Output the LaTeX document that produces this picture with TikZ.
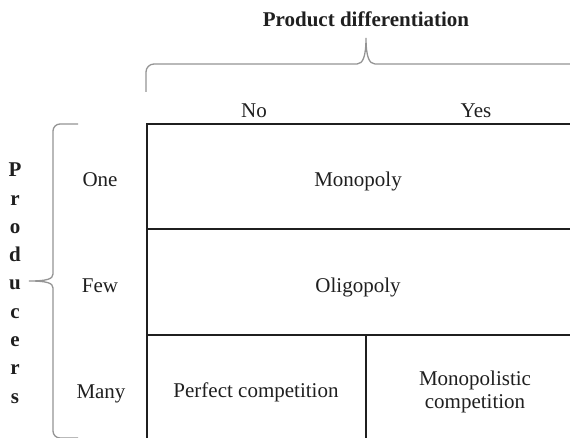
\documentclass[tikz,border=0pt]{standalone}
\usepackage{fontspec}
\setmainfont{Liberation Serif}
\begin{document}
\begin{tikzpicture}[x=1pt,y=-1pt,
  font=\fontsize{21}{24}\selectfont,
  gridline/.style={line width=1.8pt, draw=black!88},
  bracepath/.style={draw=black!42, line width=1.3pt},
  lbl/.style={anchor=base, inner sep=0pt, text=black!88}]
\useasboundingbox (0,0) rectangle (570,438);
\clip (0,0) rectangle (570,438);
% table grid
\draw[gridline] (147,440) -- (147,124) -- (572,124);
\draw[gridline] (147,229) -- (572,229);
\draw[gridline] (147,335) -- (572,335);
\draw[gridline] (366,335) -- (366,440);
% top brace
\draw[bracepath] (146,92) -- (146,72) to[out=90,in=180] (154,64) -- (357,64)
  .. controls (363,64) and (366,56) .. (366,38)
  .. controls (366,56) and (369,64) .. (375,64) -- (575,64);
% left brace
\draw[bracepath] (78,124) -- (60,124) to[out=180,in=90] (53,131) -- (53,274)
  .. controls (53,279) and (47,281) .. (29,281)
  .. controls (47,281) and (53,283) .. (53,288) -- (53,431) to[out=-90,in=180] (60,438) -- (78,438);
% titles
\node[lbl, font=\fontsize{21}{24}\selectfont\bfseries] (pd) at (366,27) {Product differentiation};
\foreach \ch [count=\i from 0] in {P,r,o,d,u,c,e,r,s}
  \node[lbl, font=\fontsize{21}{24}\selectfont\bfseries] (pr\i) at (15,177+28.25*\i) {\ch};
% column heads
\node[lbl] (no) at (254,118) {No};
\node[lbl] (yes) at (476,118) {Yes};
% row heads
\node[lbl] (one) at (100,187) {One};
\node[lbl] (few) at (100,292) {Few};
\node[lbl] (many) at (101,398) {Many};
% cells
\node[lbl] (mono) at (358,187) {Monopoly};
\node[lbl] (oligo) at (358,292) {Oligopoly};
\node[lbl] (perf) at (256,397) {Perfect competition};
\node[lbl] (mc1) at (475,385) {Monopolistic};
\node[lbl] (mc2) at (475,408) {competition};
\end{tikzpicture}
\end{document}
